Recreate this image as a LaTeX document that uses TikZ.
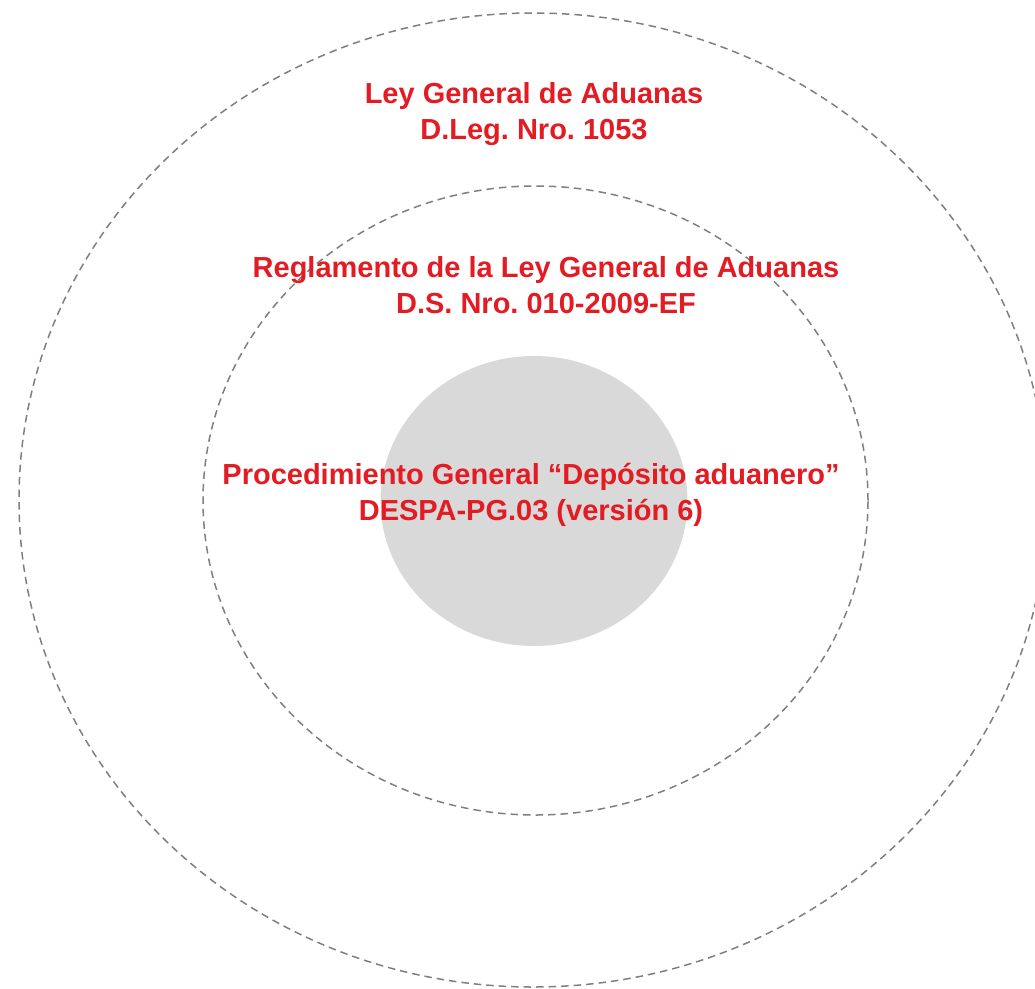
\documentclass[tikz,border=0pt]{standalone}
\usepackage{fontspec}
\setmainfont{Liberation Sans}
\usetikzlibrary{shapes.geometric}
\definecolor{lawred}{HTML}{E31B23}
\definecolor{ringgray}{HTML}{7F7F7F}
\definecolor{corefill}{HTML}{D9D9D9}
\frenchspacing
\tikzset{
  ring/.style={ellipse, draw=ringgray, line width=1.5pt, dash pattern=on 7.5pt off 5pt, inner sep=0pt},
  core/.style={ellipse, fill=corefill, draw=none, inner sep=0pt},
  lawtext/.style={text=lawred, font=\fontsize{29}{36}\selectfont\bfseries, align=center, inner sep=0pt}
}
\begin{document}
\begin{tikzpicture}[x=1pt,y=-1pt]
\useasboundingbox (0,0) rectangle (1035,988);
\node[ring, minimum width=1028pt, minimum height=974pt] (outer) at (533,500) {};
\node[ring, minimum width=665pt, minimum height=629pt] (middle) at (535.5,500.5) {};
\node[core, minimum width=307pt, minimum height=290pt] (inner) at (534,501) {};
\node[lawtext] (t1) at (534,114) {Ley General de Aduanas\\D.Leg. Nro. 1053};
\node[lawtext] (t2) at (546,285.5) {Reglamento de la Ley General de Aduanas\\D.S. Nro. 010-2009-EF};
\node[lawtext] (t3) at (531,495) {Procedimiento General “Depósito aduanero”\\DESPA-PG.03 (versión 6)};
\end{tikzpicture}
\end{document}
